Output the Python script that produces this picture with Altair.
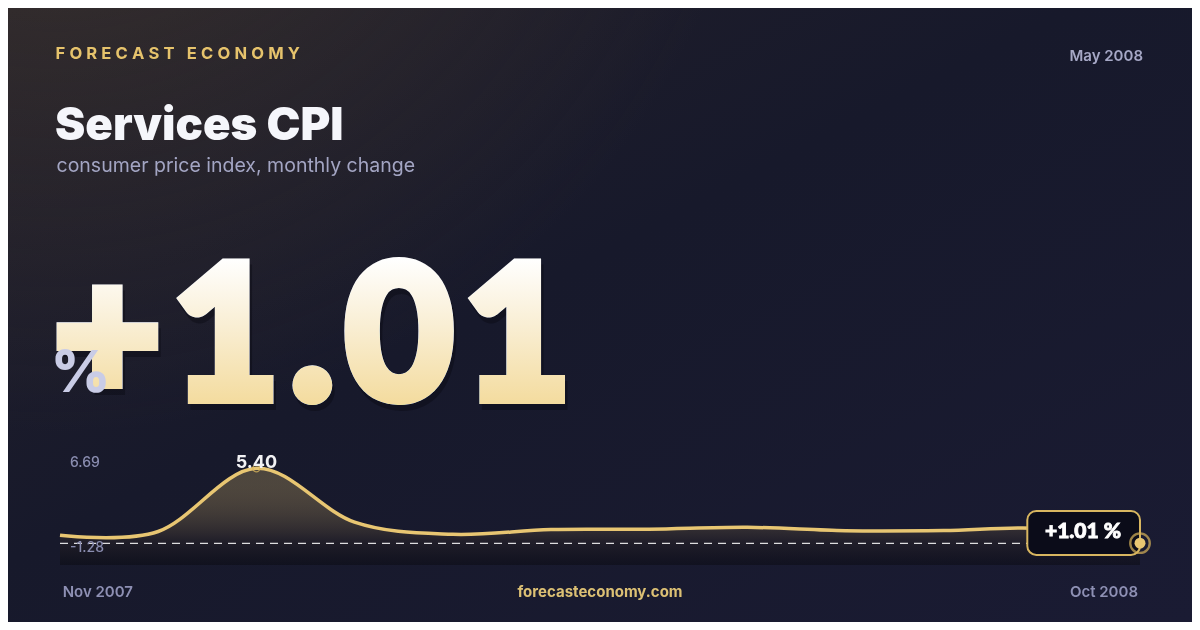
import altair as alt
import pandas as pd

# ---------------- data ----------------
months = ["Nov 2007", "Dec 2007", "Jan 2008", "Feb 2008", "Mar 2008", "Apr 2008",
          "May 2008", "Jun 2008", "Jul 2008", "Aug 2008", "Sep 2008", "Oct 2008"]
values = [0.58, 0.85, 5.40, 1.52, 0.65, 0.99, 1.01, 1.15, 0.91, 0.92, 1.07, 0.01]
range_labels = [6.69, -1.28]          # padded max / min shown on the sparkline

brand = "FORECAST ECONOMY"
title = "Services CPI"
subtitle = "consumer price index, monthly change"
period = "May 2008"
headline = "+1.01"
unit = "%"
footer = "forecasteconomy.com"

W, H = 1184, 614
GOLD = "#e8c672"

df = pd.DataFrame({"idx": list(range(len(values))), "month": months, "v": values})
df["lbl"] = df["v"].map(lambda v: f"{v:.2f}")
peak = df[df["v"] == df["v"].max()]
last = df.tail(1).copy()
last["badge"] = f"{headline} {unit}"
first = df.head(1)
zero_df = pd.DataFrame({"x0": [0], "x1": [len(values) - 1], "z": [0.0]})

xs = alt.Scale(domain=[-0.5296, 11.5296], nice=False, zero=False)
ys = alt.Scale(domain=[-5.666, 38.538], nice=False, zero=False)
X = alt.X("idx:Q", scale=xs, axis=None)
Y = alt.Y("v:Q", scale=ys, axis=None)


def txt(text, x, y, **kw):
    kw.setdefault("baseline", "alphabetic")
    return alt.Chart(pd.DataFrame({"t": [text]})).mark_text(**kw).encode(
        x=alt.value(x), y=alt.value(y), text="t:N")


def box(x0, x1, y0, y1, **kw):
    return alt.Chart(pd.DataFrame({"a": [0]})).mark_rect(**kw).encode(
        x=alt.value(x0), x2=alt.value(x1), y=alt.value(y0), y2=alt.value(y1))


words = brand.split(" ")
spaced = "\u2005 \u2005".join("\u2005".join(list(w)) for w in words)
big_text = "\u200a".join(list(headline))

# ---------------- background ----------------
bg = box(0, W, 0, H, fill=alt.Gradient(gradient="linear", x1=0, y1=0, x2=1, y2=1, stops=[
    alt.GradientStop(color="#23202a", offset=0),
    alt.GradientStop(color="#17192b", offset=0.45),
    alt.GradientStop(color="#1a1b33", offset=1)]))

glow = box(0, W, 0, H, fill=alt.Gradient(gradient="radial", x1=0.04, y1=0.0, r1=0, x2=0.04, y2=0.0, r2=0.6, stops=[
    alt.GradientStop(color="rgba(74,62,48,0.6)", offset=0),
    alt.GradientStop(color="rgba(74,62,48,0.0)", offset=1)]))

# ---------------- header ----------------
brand_t = txt(spaced, 47.5, 51, font="Inter", fontSize=16.6, fontWeight=700, color="#e6c36c", align="left")
title_t = txt(title, 47, 132, font="Inter", fontSize=45.5, fontWeight=900, color="#f5f6fb", align="left")
sub_t = txt(subtitle, 48.5, 163.7, font="Inter", fontSize=19.5, fontWeight=400, color="#a3a5c3", align="left")
period_t = txt(period, 1135, 52.7, font="Inter", fontSize=15, fontWeight=600, color="#a6a8c6", align="right")

BIG = dict(font="Lato", fontSize=184, fontWeight=700, align="left", strokeWidth=12, strokeJoin="miter")
big_shadow = txt(big_text, 48.5, 396, color="#06060d", stroke="#06060d", opacity=0.35, **BIG)
big = txt(big_text, 46, 390, color="#ffffff", stroke="#ffffff", **BIG)
# gradient tint of the white headline: "darken" leaves the darker background untouched
tint = box(30, 640, 250, 402, blend="darken",
           fill=alt.Gradient(gradient="linear", x1=0, y1=0, x2=0, y2=1, stops=[
               alt.GradientStop(color="#ffffff", offset=0),
               alt.GradientStop(color="#f9eed3", offset=0.45),
               alt.GradientStop(color="#f3da9a", offset=1)]))
pct = txt(unit, 42.7, 383.7, font="Inter", fontSize=58, fontWeight=800, color="#c9cce6", align="left")

# ---------------- sparkline ----------------
area = alt.Chart(df).mark_area(
    interpolate="cardinal",
    fill=alt.Gradient(gradient="linear", x1=0, y1=0, x2=0, y2=1, stops=[
        alt.GradientStop(color="rgba(232,198,114,0.25)", offset=0),
        alt.GradientStop(color="rgba(40,35,40,0.6)", offset=0.75),
        alt.GradientStop(color="rgba(8,8,14,0.45)", offset=1)])
).encode(x=X, y=Y, y2=alt.datum(-1.56))

zero = alt.Chart(zero_df).mark_rule(strokeDash=[8, 6], color="#ffffff", opacity=0.85, strokeWidth=1.2).encode(
    x=alt.X("x0:Q", scale=xs, axis=None), x2="x1:Q", y=alt.Y("z:Q", scale=ys, axis=None))

line = alt.Chart(df).mark_line(interpolate="cardinal", color=GOLD, strokeWidth=3.5).encode(x=X, y=Y)

peak_ring = alt.Chart(peak).mark_point(shape="circle", filled=False, size=50, color="#d9b45a",
                                       opacity=0.8, strokeWidth=1.3).encode(x=X, y=Y)
peak_lbl = alt.Chart(peak).mark_text(font="Inter", fontSize=18, fontWeight=700, color="#f2f2f4",
                                     align="center", baseline="alphabetic").encode(x=X, y=Y, text="lbl:N")

rng = pd.DataFrame({"v": range_labels, "lbl": [f"{v:.2f}" for v in range_labels]})
LBL = dict(font="Inter", fontSize=14, fontWeight=500, color="#8a8db0", align="left", baseline="alphabetic")
top_lbl = alt.Chart(rng.head(1)).mark_text(dy=16.3, **LBL).encode(x=alt.value(62), y=Y, text="lbl:N")
bot_lbl = alt.Chart(rng.tail(1)).mark_text(dy=-9.4, **LBL).encode(x=alt.value(62), y=Y, text="lbl:N")

badge = alt.Chart(last).mark_rect(fill="#0b0c19", stroke="#d8b660", strokeWidth=2, cornerRadius=9,
                                  xOffset=-112.7, x2Offset=0, yOffset=-32.2, y2Offset=11.8).encode(
    x=X, x2="idx:Q", y=Y, y2="v:Q")
badge_t = alt.Chart(last).mark_text(font="Lato", fontSize=21, fontWeight=900, color="#ffffff",
                                    stroke="#ffffff", strokeWidth=0.9, baseline="alphabetic",
                                    align="center", dx=-57, dy=-4.9).encode(x=X, y=Y, text="badge:N")
end_ring = alt.Chart(last).mark_point(shape="circle", filled=False, size=380, color="#d9b45a",
                                      strokeWidth=2.4).encode(x=X, y=Y)
end_dot = alt.Chart(last).mark_point(shape="circle", filled=True, size=120, color=GOLD,
                                     opacity=1).encode(x=X, y=Y)

FOOT = dict(font="Inter", fontSize=15, fontWeight=600, color="#8e90b4", baseline="alphabetic")
first_lbl = alt.Chart(first).mark_text(align="left", dx=2.7, **FOOT).encode(
    x=X, y=alt.value(589.3), text="month:N")
last_lbl = alt.Chart(last).mark_text(align="right", dx=-2, **FOOT).encode(
    x=X, y=alt.value(589.3), text="month:N")
footer_t = txt(footer, 592, 589.3, font="Inter", fontSize=15, fontWeight=700, color="#dcc074", align="center")

chart = alt.layer(
    bg, glow,
    brand_t, title_t, sub_t, period_t,
    big_shadow, big, tint, pct,
    area, zero, line, peak_ring, peak_lbl, top_lbl, bot_lbl,
    badge, badge_t, end_ring, end_dot,
    first_lbl, last_lbl, footer_t,
).properties(
    width=W, height=H, padding=0, background="#191a2e",
    autosize=alt.AutoSizeParams(type="none"),
).configure_view(stroke=None)

chart.save("out.html", embed_options={"renderer": "svg", "actions": False})
